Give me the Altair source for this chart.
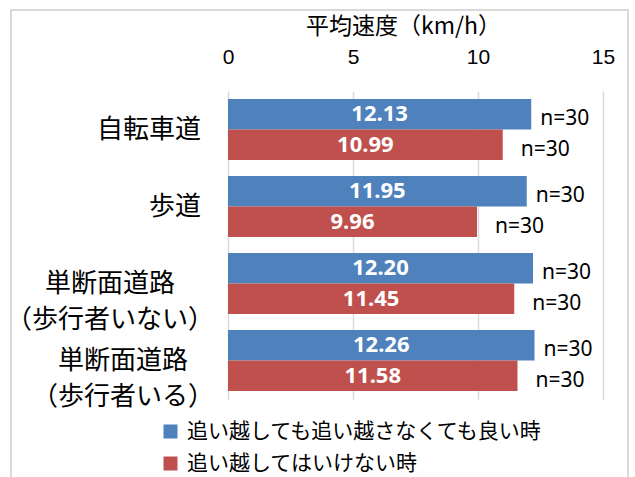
import altair as alt
import pandas as pd

# Road types (rows) and the two overtaking conditions (series)
categories = ["自転車道", "歩道", "単断面道路（歩行者いない）", "単断面道路（歩行者いる）"]
series = ["追い越しても追い越さなくても良い時", "追い越してはいけない時"]
speed_allowed = [12.13, 11.95, 12.20, 12.26]
speed_forbidden = [10.99, 9.96, 11.45, 11.58]
n_allowed = [30, 30, 30, 30]
n_forbidden = [30, 30, 30, 30]
colors = ["#4F81BD", "#C0504D"]
x_ticks = [0, 5, 10, 15]

# Row labels as drawn on the left; two-line labels are centred line by line
single_labels = {"自転車道": "自転車道", "歩道": "歩道"}
double_labels = {
    "単断面道路（歩行者いない）": ["単断面道路", "（歩行者いない）"],
    "単断面道路（歩行者いる）": ["単断面道路", "（歩行者いる）"],
}

rows = []
for i, c in enumerate(categories):
    rows.append({"category": c, "series": series[0], "speed": speed_allowed[i],
                 "n_text": f"n={n_allowed[i]}"})
    rows.append({"category": c, "series": series[1], "speed": speed_forbidden[i],
                 "n_text": f"n={n_forbidden[i]}"})
df = pd.DataFrame(rows)

single_df = pd.DataFrame({"category": list(single_labels), "label": list(single_labels.values())})

CJK = "Noto Sans CJK JP"
NUM = "Noto Sans"
LABEL_SIZE = 26
LABEL_RIGHT = -14  # right edge of the two-line label blocks, left of the plot

y_enc = alt.Y("category:N", sort=categories, axis=None,
              scale=alt.Scale(domain=categories, paddingInner=0.208, paddingOuter=0.104))
yoff_enc = alt.YOffset("series:N", sort=series,
                       scale=alt.Scale(domain=series, paddingInner=0))

x_enc = alt.X(
    "speed:Q",
    scale=alt.Scale(domain=[0, 15], nice=False, zero=True),
    axis=alt.Axis(
        orient="top", values=x_ticks, format="d",
        title="平均速度（km/h）", titleFont=CJK, titleFontSize=23,
        titleFontWeight="normal", titleColor="black", titlePadding=8, titleX=175,
        labelFont="Liberation Sans", labelFontSize=21, labelColor="black", labelPadding=24,
        labelFlush=False, labelOverlap=False,
        grid=True, gridColor="#D9D9D9", gridWidth=1.5,
        domain=False, ticks=False,
    ),
)

base = alt.Chart(df)

bars = base.mark_bar().encode(
    x=x_enc,
    y=y_enc,
    yOffset=yoff_enc,
    color=alt.Color(
        "series:N",
        scale=alt.Scale(domain=series, range=colors),
        legend=alt.Legend(
            orient="none", legendX=-68, legendY=330, title=None,
            direction="vertical", symbolType="square", symbolSize=196,
            symbolStrokeWidth=0, labelFont=CJK, labelFontSize=21,
            labelColor="black", labelOffset=6, rowPadding=10, labelLimit=0,
        ),
    ),
)

# Value labels centred inside each bar
values_text = base.transform_calculate(mid="datum.speed / 2").mark_text(
    font=NUM, fontSize=22, fontWeight="bold", color="white", baseline="middle"
).encode(
    x=alt.X("mid:Q"),
    y=y_enc,
    yOffset=yoff_enc,
    text=alt.Text("speed:Q", format=".2f"),
)

# Sample-size notes beside the bars
n_allowed_text = base.transform_filter(alt.datum.series == series[0]).mark_text(
    font=NUM, fontSize=21, color="black", align="left", baseline="middle", dx=9, dy=5
).encode(x="speed:Q", y=y_enc, yOffset=yoff_enc, text="n_text:N")

n_forbidden_text = base.transform_filter(alt.datum.series == series[1]).mark_text(
    font=NUM, fontSize=21, color="black", align="left", baseline="middle", dx=18, dy=5
).encode(x="speed:Q", y=y_enc, yOffset=yoff_enc, text="n_text:N")

# Single-line row labels, right aligned
single_text = alt.Chart(single_df).mark_text(
    font=CJK, fontSize=LABEL_SIZE, color="black", align="right", baseline="middle"
).encode(x=alt.value(-27), y=y_enc, text="label:N")

# Two-line row labels: block right aligned, lines centred within the block
double_layers = []
for cat, lines in double_labels.items():
    block_width = max(len(s) for s in lines) * LABEL_SIZE
    centre = LABEL_RIGHT - block_width / 2
    double_layers.append(
        alt.Chart(pd.DataFrame({"category": [cat], "label": ["\n".join(lines)]})).mark_text(
            font=CJK, fontSize=LABEL_SIZE, color="black", align="center",
            baseline="middle", lineBreak="\n", lineHeight=36,
        ).encode(x=alt.value(centre), y=y_enc, text="label:N")
    )

# Outer frame of the chart area
frame = alt.Chart(pd.DataFrame({"k": [0]})).mark_rect(
    fillOpacity=0, stroke="#D9D9D9", strokeWidth=2
).encode(x=alt.value(-217), x2=alt.value(400), y=alt.value(-81), y2=alt.value(420))

chart = alt.layer(
    frame, bars, values_text, n_allowed_text, n_forbidden_text, single_text, *double_layers
).properties(
    width=375, height=308,
    padding={"left": 228, "top": 91, "right": 32, "bottom": 78},
    autosize=alt.AutoSizeParams(type="none"),
    background="white",
).configure_view(stroke=None)

chart.save("out.html", embed_options={"renderer": "svg", "actions": False})
